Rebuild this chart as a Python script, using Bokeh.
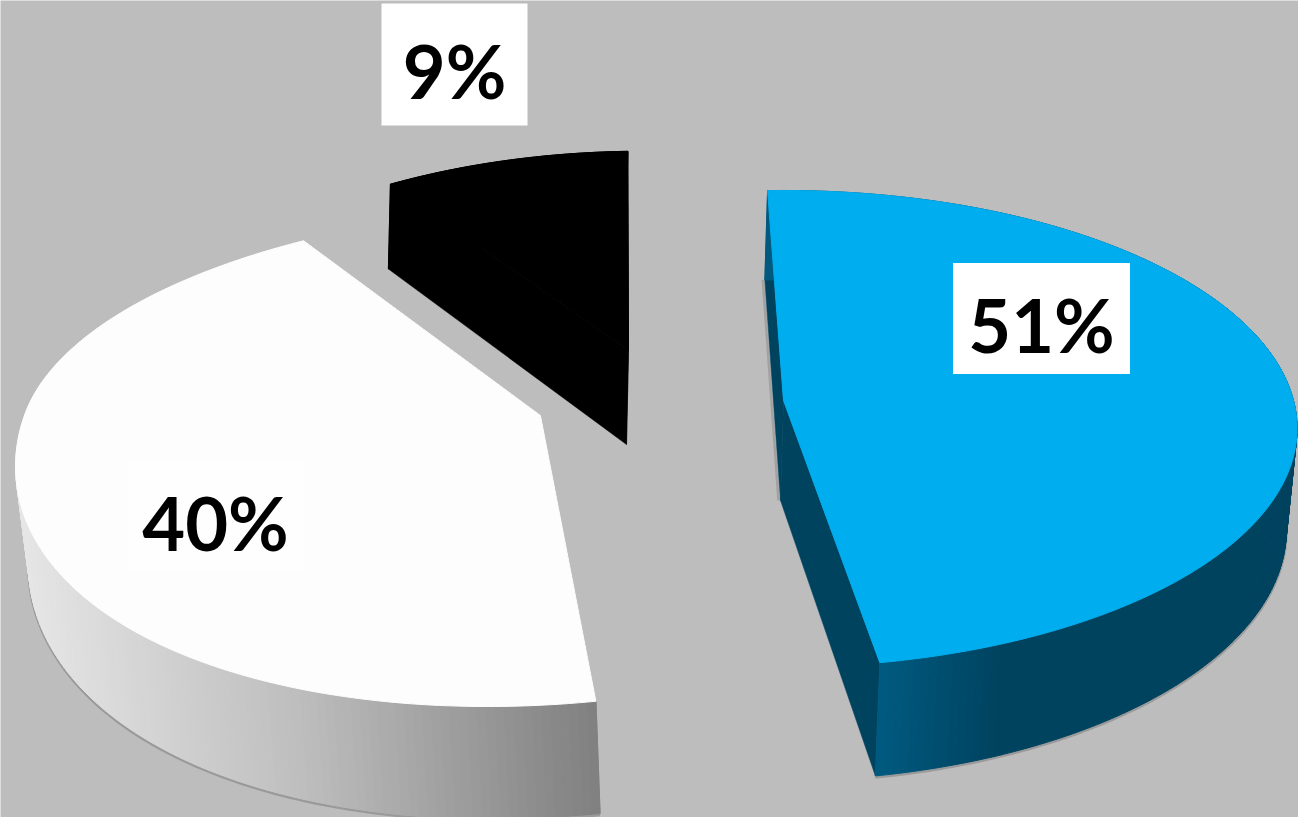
import math
from bokeh.embed import file_html
from bokeh.models import Range1d
from bokeh.plotting import figure
from bokeh.resources import INLINE

# Chart data, in drawing order round the pie (clockwise from the back)
categories = ["A", "B", "C"]
shares = [51, 40, 9]
labels = ["51%", "40%", "9%"]

WIDTH, HEIGHT = 1298, 817
BACKGROUND = "#bdbdbd"

# How each exploded wedge sits on the page
wedge_style = {
    "A": dict(apex=(783, 400), a=510, b=235, k=0.119, depth=100, ox=-3, shrink=0.985, skew=-4, skew_back=0,
              top="#00adee", face="#00435f", stops=[(880, "#005a80"), (1000, "#00435f"), (1300, "#00435f")]),
    "B": dict(apex=(540, 415), a=516, b=243, k=0.165, depth=94, ox=5, shrink=0.985, skew=-53, skew_back=39,
              top="#fdfdfd", face="#808080", stops=[(20, "#e6e6e6"), (300, "#bdbdbd"), (600, "#7f7f7f")]),
    "C": dict(apex=(628, 350), a=475, b=226, k=0.134, depth=94, ox=-2, shrink=1.0, skew=0, skew_back=14,
              top="#000000", face="#000000", stops=[(0, "#000000"), (1300, "#000000")]),
}

# Data label boxes: centre, width, height, fill
label_style = {
    "A": dict(center=(1041, 318), w=177, h=111, fill="#ffffff"),
    "B": dict(center=(215, 516), w=176, h=112, fill="#fefefe"),
    "C": dict(center=(454, 64), w=146, h=122, fill="#ffffff"),
}


def view_angle(turn):
    """Angle on the tilted disc for a clockwise turn in degrees from the back."""
    return turn - 2.0 - 5.8 * (1.0 - math.cos(math.radians(turn)))


def project(turn, radius, st):
    t = math.radians(view_angle(turn))
    u, v = radius * math.sin(t), radius * math.cos(t)
    den = 1.0 + st["k"] * v
    cx, cy = st["apex"]
    x = cx + st["a"] * u / den + (st["skew"] if v < 0 else st["skew_back"]) * v * v
    y = cy - st["b"] * v / den
    return x, y, v


def lower(pt, st):
    x, y, v = pt
    cx = st["apex"][0]
    return (cx + (x - cx) * st["shrink"] + st["ox"], y + st["depth"] / (1.0 + st["k"] * v))


def mix(stops, x):
    if x <= stops[0][0]:
        return stops[0][1]
    for (x0, c0), (x1, c1) in zip(stops, stops[1:]):
        if x <= x1:
            f = (x - x0) / (x1 - x0)
            rgb = [round(int(c0[i:i + 2], 16) * (1 - f) + int(c1[i:i + 2], 16) * f) for i in (1, 3, 5)]
            return "#%02x%02x%02x" % tuple(rgb)
    return stops[-1][1]


p = figure(width=WIDTH, height=HEIGHT, output_backend="svg", toolbar_location=None,
           x_range=Range1d(0, WIDTH), y_range=Range1d(HEIGHT, 0),
           background_fill_color=BACKGROUND, border_fill_color=BACKGROUND,
           min_border=0, outline_line_color=None)
p.axis.visible = False
p.grid.visible = False

# Turn each share into the wedge's start and end angle
total = float(sum(shares))
spans, running = {}, 0.0
for name, share in zip(categories, shares):
    spans[name] = (running, running + share / total * 360.0)
    running += share / total * 360.0

for name in ["C", "B", "A"]:
    st = wedge_style[name]
    start, end = spans[name]
    n = max(24, int((end - start) * 1.2))
    arc = [project(start + (end - start) * i / n, 1.0, st) for i in range(n + 1)]
    apex_top = (st["apex"][0], st["apex"][1], 0.0)
    apex_low = lower(apex_top, st)
    arc_low = [lower(q, st) for q in arc]

    # soft contact line around the lower rim
    if name != "C":
        p.line([q[0] for q in arc_low], [q[1] + 1.5 for q in arc_low], line_color="#6f6f6f",
               line_width=2.5, line_alpha=0.45)
        p.line([apex_low[0] - 2, arc_low[0][0] - 2], [apex_low[1], arc_low[0][1]], line_color="#6f6f6f",
               line_width=2.5, line_alpha=0.35)

    # the two cut faces
    for q, ql in ((arc[0], arc_low[0]), (arc[-1], arc_low[-1])):
        p.patch([apex_top[0], q[0], ql[0], apex_low[0]], [apex_top[1], q[1], ql[1], apex_low[1]],
                fill_color=st["face"], line_color=st["face"], line_width=0.5)

    # outer wall, shaded strip by strip
    xs, ys, colors = [], [], []
    for i in range(n):
        xs.append([arc[i][0], arc[i + 1][0], arc_low[i + 1][0], arc_low[i][0]])
        ys.append([arc[i][1], arc[i + 1][1], arc_low[i + 1][1], arc_low[i][1]])
        colors.append(mix(st["stops"], (arc[i][0] + arc[i + 1][0]) / 2))
    p.patches(xs, ys, fill_color=colors, line_color=colors, line_width=1)

    # top surface
    p.patch([apex_top[0]] + [q[0] for q in arc], [apex_top[1]] + [q[1] for q in arc],
            fill_color=st["top"], line_color=st["top"], line_width=1)

# Percentage labels in their white boxes
for name, text in zip(categories, labels):
    ls = label_style[name]
    x, y = ls["center"]
    p.rect([x], [y], width=ls["w"], height=ls["h"], fill_color=ls["fill"], line_color=None)
    p.text([x], [y + 6], text=[text], text_align="center", text_baseline="middle",
           text_font={"value": "Lato"}, text_font_style="bold", text_font_size="74px", text_color="#000000")

open("out.html", "w").write(file_html(p, INLINE))
